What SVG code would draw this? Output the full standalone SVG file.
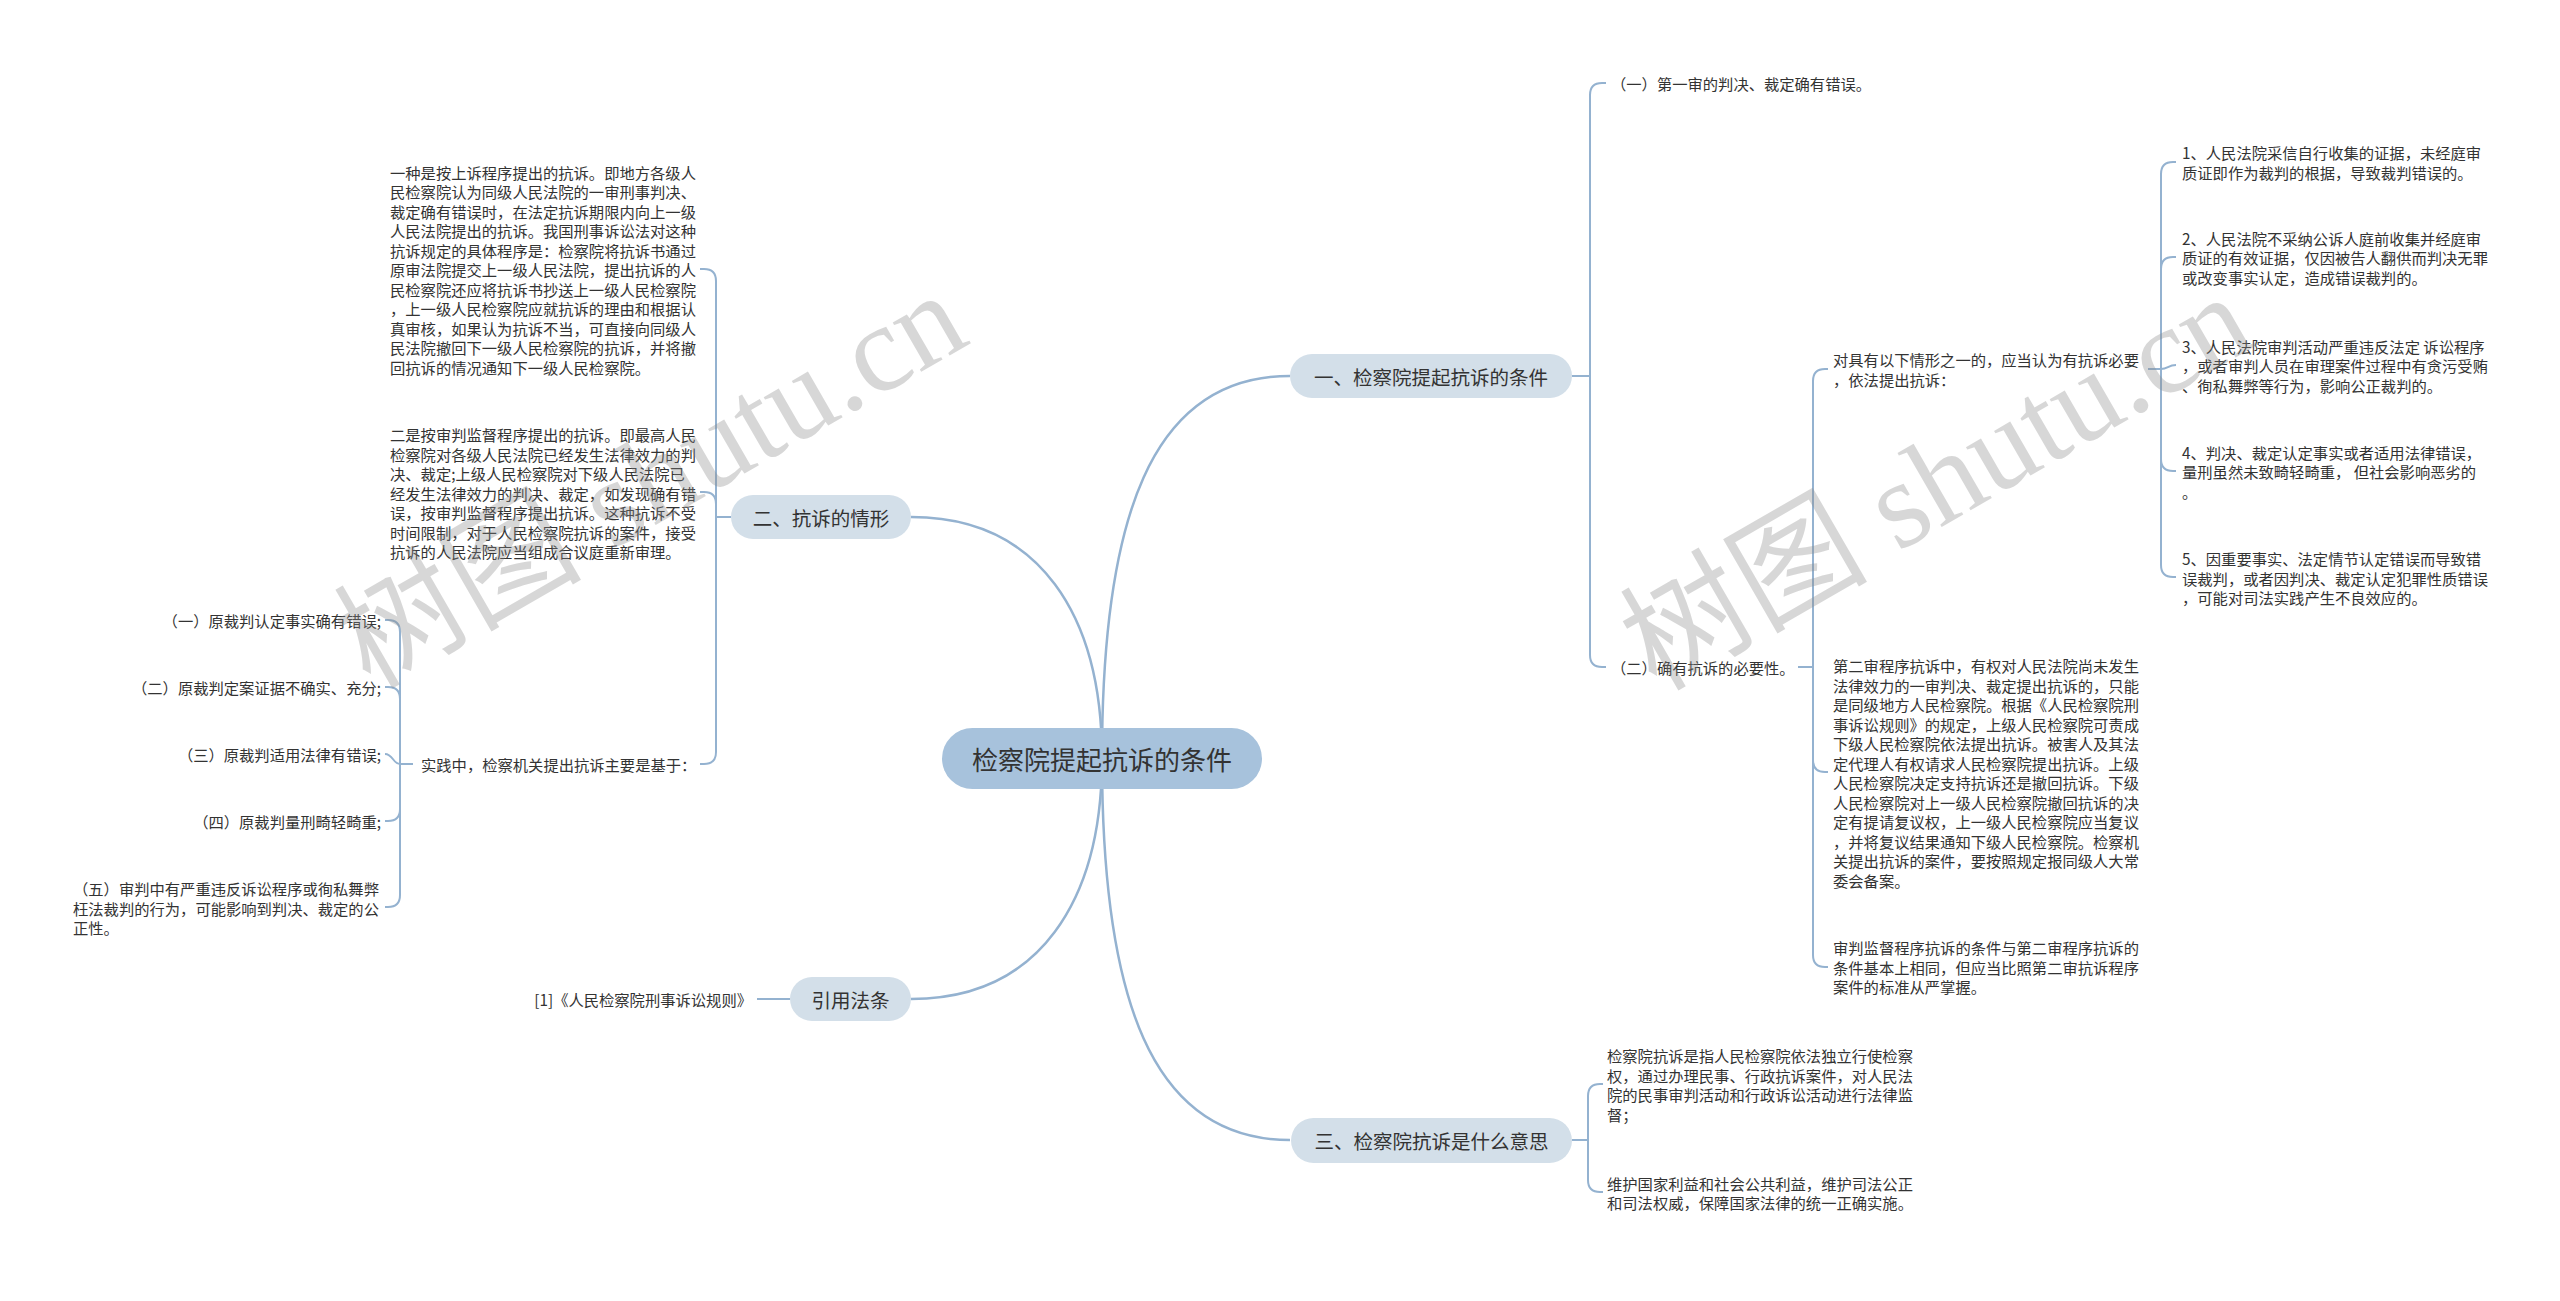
<svg xmlns="http://www.w3.org/2000/svg" width="2560" height="1301" viewBox="0 0 2560 1301">
<style>
.t{font-family:"Noto Sans CJK SC","Liberation Sans",sans-serif;font-size:15.3px;fill:#333;dominant-baseline:central}
.r{text-anchor:end}
.n1{font-family:"Noto Sans CJK SC","Liberation Sans",sans-serif;font-size:19.5px;fill:#333;text-anchor:middle;dominant-baseline:central}
.n0{font-family:"Noto Sans CJK SC","Liberation Sans",sans-serif;font-size:26px;fill:#333;text-anchor:middle;dominant-baseline:central}
.lvl1{fill:#d3dfe9}
.root{fill:#a7c2dc}
.ln{fill:none;stroke:#94b2d0;stroke-width:2}
.main{fill:none;stroke:#94b2d0;stroke-width:2.5}
.wm{font-family:"Liberation Serif","Noto Sans CJK SC",serif;font-size:124px;fill:#888;opacity:0.33}
</style>
<rect width="2560" height="1301" fill="#ffffff"/>
<g id="connectors">
<path class="main" d="M1102,758 C1102,520 1150,376 1290,376"/>
<path class="main" d="M1102,758 C1102,616 1040,517 911,517"/>
<path class="main" d="M1102,758 C1102,900 1040,999 911,999"/>
<path class="main" d="M1102,758 C1102,996 1150,1140 1290,1140"/>
<path class="ln" d="M1572,376 H1590"/>
<path class="ln" d="M1590,376 V95 Q1590,83 1602,83 H1606"/>
<path class="ln" d="M1590,376 V655 Q1590,667 1602,667 H1606"/>
<path class="ln" d="M1798,667 H1813"/>
<path class="ln" d="M1813,667 V381 Q1813,369 1825,369 H1828"/>
<path class="ln" d="M1813,667 V760 Q1813,772 1825,772 H1828"/>
<path class="ln" d="M1813,667 V955 Q1813,967 1825,967 H1828"/>
<path class="ln" d="M2148,369 H2161"/>
<path class="ln" d="M2161,369 V174 Q2161,162 2173,162 H2176"/>
<path class="ln" d="M2161,369 V269 Q2161,257 2173,257 H2176"/>
<path class="ln" d="M2161,369 C2168,369 2168,365 2176,365"/>
<path class="ln" d="M2161,369 V459 Q2161,471 2173,471 H2176"/>
<path class="ln" d="M2161,369 V565 Q2161,577 2173,577 H2176"/>
<path class="ln" d="M1572,1140 H1588"/>
<path class="ln" d="M1588,1140 V1096 Q1588,1084 1600,1084 H1603"/>
<path class="ln" d="M1588,1140 V1180 Q1588,1192 1600,1192 H1603"/>
<path class="ln" d="M731,517 H716"/>
<path class="ln" d="M716,517 V281 Q716,269 704,269 H700"/>
<path class="ln" d="M716,517 V504 Q716,492 704,492 H700"/>
<path class="ln" d="M716,517 V752 Q716,764 704,764 H700"/>
<path class="ln" d="M413,764 H400"/>
<path class="ln" d="M400,764 V632 Q400,620 388,620 H385"/>
<path class="ln" d="M400,764 V699 Q400,687 388,687 H385"/>
<path class="ln" d="M400,764 C393,764 393,754 385,754"/>
<path class="ln" d="M400,764 V809 Q400,821 388,821 H385"/>
<path class="ln" d="M400,764 V895 Q400,907 388,907 H385"/>
<path class="ln" d="M790,999 H757"/>
</g>
<g id="root">
<rect class="root" x="942" y="728" width="320" height="61" rx="30.5"/>
<text class="n0" x="1102" y="758.5">检察院提起抗诉的条件</text>
</g>
<g id="n-yi">
<rect class="lvl1" x="1290" y="354" width="282" height="44" rx="22"/>
<text class="n1" x="1431" y="376">一、检察院提起抗诉的条件</text>
</g>
<g id="n-san">
<rect class="lvl1" x="1291" y="1118" width="281" height="45" rx="22.5"/>
<text class="n1" x="1431.5" y="1140.5">三、检察院抗诉是什么意思</text>
</g>
<g id="n-er">
<rect class="lvl1" x="731" y="495" width="180" height="44" rx="22"/>
<text class="n1" x="821" y="517">二、抗诉的情形</text>
</g>
<g id="n-yinyong">
<rect class="lvl1" x="790" y="977" width="121" height="44" rx="22"/>
<text class="n1" x="850.5" y="999">引用法条</text>
</g>
<g id="yi-1">
<text class="t" x="1611" y="83">（一）第一审的判决、裁定确有错误。</text>
</g>
<g id="yi-2">
<text class="t" x="1611" y="667">（二）确有抗诉的必要性。</text>
</g>
<g id="yi-2-a">
<text class="t"><tspan x="1833" y="359">对具有以下情形之一的，应当认为有抗诉必要</tspan><tspan x="1833" y="378.5">，依法提出抗诉：</tspan></text>
</g>
<g id="yi-2-b">
<text class="t"><tspan x="1833" y="665">第二审程序抗诉中，有权对人民法院尚未发生</tspan><tspan x="1833" y="684.5">法律效力的一审判决、裁定提出抗诉的，只能</tspan><tspan x="1833" y="704">是同级地方人民检察院。根据《人民检察院刑</tspan><tspan x="1833" y="723.5">事诉讼规则》的规定，上级人民检察院可责成</tspan><tspan x="1833" y="743">下级人民检察院依法提出抗诉。被害人及其法</tspan><tspan x="1833" y="762.5">定代理人有权请求人民检察院提出抗诉。上级</tspan><tspan x="1833" y="782">人民检察院决定支持抗诉还是撤回抗诉。下级</tspan><tspan x="1833" y="801.5">人民检察院对上一级人民检察院撤回抗诉的决</tspan><tspan x="1833" y="821">定有提请复议权，上一级人民检察院应当复议</tspan><tspan x="1833" y="840.5">，并将复议结果通知下级人民检察院。检察机</tspan><tspan x="1833" y="860">关提出抗诉的案件，要按照规定报同级人大常</tspan><tspan x="1833" y="879.5">委会备案。</tspan></text>
</g>
<g id="yi-2-c">
<text class="t"><tspan x="1833" y="947">审判监督程序抗诉的条件与第二审程序抗诉的</tspan><tspan x="1833" y="966.5">条件基本上相同，但应当比照第二审抗诉程序</tspan><tspan x="1833" y="986">案件的标准从严掌握。</tspan></text>
</g>
<g id="item-1">
<text class="t"><tspan x="2182" y="152">1、人民法院采信自行收集的证据，未经庭审</tspan><tspan x="2182" y="171.5">质证即作为裁判的根据，导致裁判错误的。</tspan></text>
</g>
<g id="item-2">
<text class="t"><tspan x="2182" y="237.5">2、人民法院不采纳公诉人庭前收集并经庭审</tspan><tspan x="2182" y="257">质证的有效证据，仅因被告人翻供而判决无罪</tspan><tspan x="2182" y="276.5">或改变事实认定，造成错误裁判的。</tspan></text>
</g>
<g id="item-3">
<text class="t"><tspan x="2182" y="345.5">3、人民法院审判活动严重违反法定 诉讼程序</tspan><tspan x="2182" y="365">，或者审判人员在审理案件过程中有贪污受贿</tspan><tspan x="2182" y="384.5">、徇私舞弊等行为，影响公正裁判的。</tspan></text>
</g>
<g id="item-4">
<text class="t"><tspan x="2182" y="451.5">4、判决、裁定认定事实或者适用法律错误，</tspan><tspan x="2182" y="471">量刑虽然未致畸轻畸重， 但社会影响恶劣的</tspan><tspan x="2182" y="490.5">。</tspan></text>
</g>
<g id="item-5">
<text class="t"><tspan x="2182" y="558">5、因重要事实、法定情节认定错误而导致错</tspan><tspan x="2182" y="577.5">误裁判，或者因判决、裁定认定犯罪性质错误</tspan><tspan x="2182" y="597">，可能对司法实践产生不良效应的。</tspan></text>
</g>
<g id="san-a">
<text class="t"><tspan x="1607" y="1055">检察院抗诉是指人民检察院依法独立行使检察</tspan><tspan x="1607" y="1074.5">权，通过办理民事、行政抗诉案件，对人民法</tspan><tspan x="1607" y="1094">院的民事审判活动和行政诉讼活动进行法律监</tspan><tspan x="1607" y="1113.5">督；</tspan></text>
</g>
<g id="san-b">
<text class="t"><tspan x="1607" y="1182.5">维护国家利益和社会公共利益，维护司法公正</tspan><tspan x="1607" y="1202">和司法权威，保障国家法律的统一正确实施。</tspan></text>
</g>
<g id="er-1">
<text class="t"><tspan x="390" y="171.7">一种是按上诉程序提出的抗诉。即地方各级人</tspan><tspan x="390" y="191.2">民检察院认为同级人民法院的一审刑事判决、</tspan><tspan x="390" y="210.7">裁定确有错误时，在法定抗诉期限内向上一级</tspan><tspan x="390" y="230.2">人民法院提出的抗诉。我国刑事诉讼法对这种</tspan><tspan x="390" y="249.7">抗诉规定的具体程序是：检察院将抗诉书通过</tspan><tspan x="390" y="269.2">原审法院提交上一级人民法院，提出抗诉的人</tspan><tspan x="390" y="288.7">民检察院还应将抗诉书抄送上一级人民检察院</tspan><tspan x="390" y="308.2">，上一级人民检察院应就抗诉的理由和根据认</tspan><tspan x="390" y="327.7">真审核，如果认为抗诉不当，可直接向同级人</tspan><tspan x="390" y="347.2">民法院撤回下一级人民检察院的抗诉，并将撤</tspan><tspan x="390" y="366.7">回抗诉的情况通知下一级人民检察院。</tspan></text>
</g>
<g id="er-2">
<text class="t"><tspan x="390" y="434">二是按审判监督程序提出的抗诉。即最高人民</tspan><tspan x="390" y="453.5">检察院对各级人民法院已经发生法律效力的判</tspan><tspan x="390" y="473">决、裁定;上级人民检察院对下级人民法院已</tspan><tspan x="390" y="492.5">经发生法律效力的判决、裁定，如发现确有错</tspan><tspan x="390" y="512">误，按审判监督程序提出抗诉。这种抗诉不受</tspan><tspan x="390" y="531.5">时间限制，对于人民检察院抗诉的案件，接受</tspan><tspan x="390" y="551">抗诉的人民法院应当组成合议庭重新审理。</tspan></text>
</g>
<g id="er-3">
<text class="t" x="421" y="764">实践中，检察机关提出抗诉主要是基于：</text>
</g>
<g id="er-3-1"><text class="t r" x="381" y="620">（一）原裁判认定事实确有错误;</text></g>
<g id="er-3-2"><text class="t r" x="381" y="687">（二）原裁判定案证据不确实、充分;</text></g>
<g id="er-3-3"><text class="t r" x="381" y="754">（三）原裁判适用法律有错误;</text></g>
<g id="er-3-4"><text class="t r" x="381" y="821">（四）原裁判量刑畸轻畸重;</text></g>
<g id="er-3-5">
<text class="t"><tspan x="73" y="888">（五）审判中有严重违反诉讼程序或徇私舞弊</tspan><tspan x="73" y="907.5">枉法裁判的行为，可能影响到判决、裁定的公</tspan><tspan x="73" y="927">正性。</tspan></text>
</g>
<g id="yinyong-1">
<text class="t r" x="752" y="999">[1]《人民检察院刑事诉讼规则》</text>
</g>
<g id="watermark">
<text class="wm" transform="translate(370,690) rotate(-30)">树图 shutu.cn</text>
<text class="wm" transform="translate(1656,692) rotate(-30)">树图 shutu.cn</text>
</g>
</svg>
